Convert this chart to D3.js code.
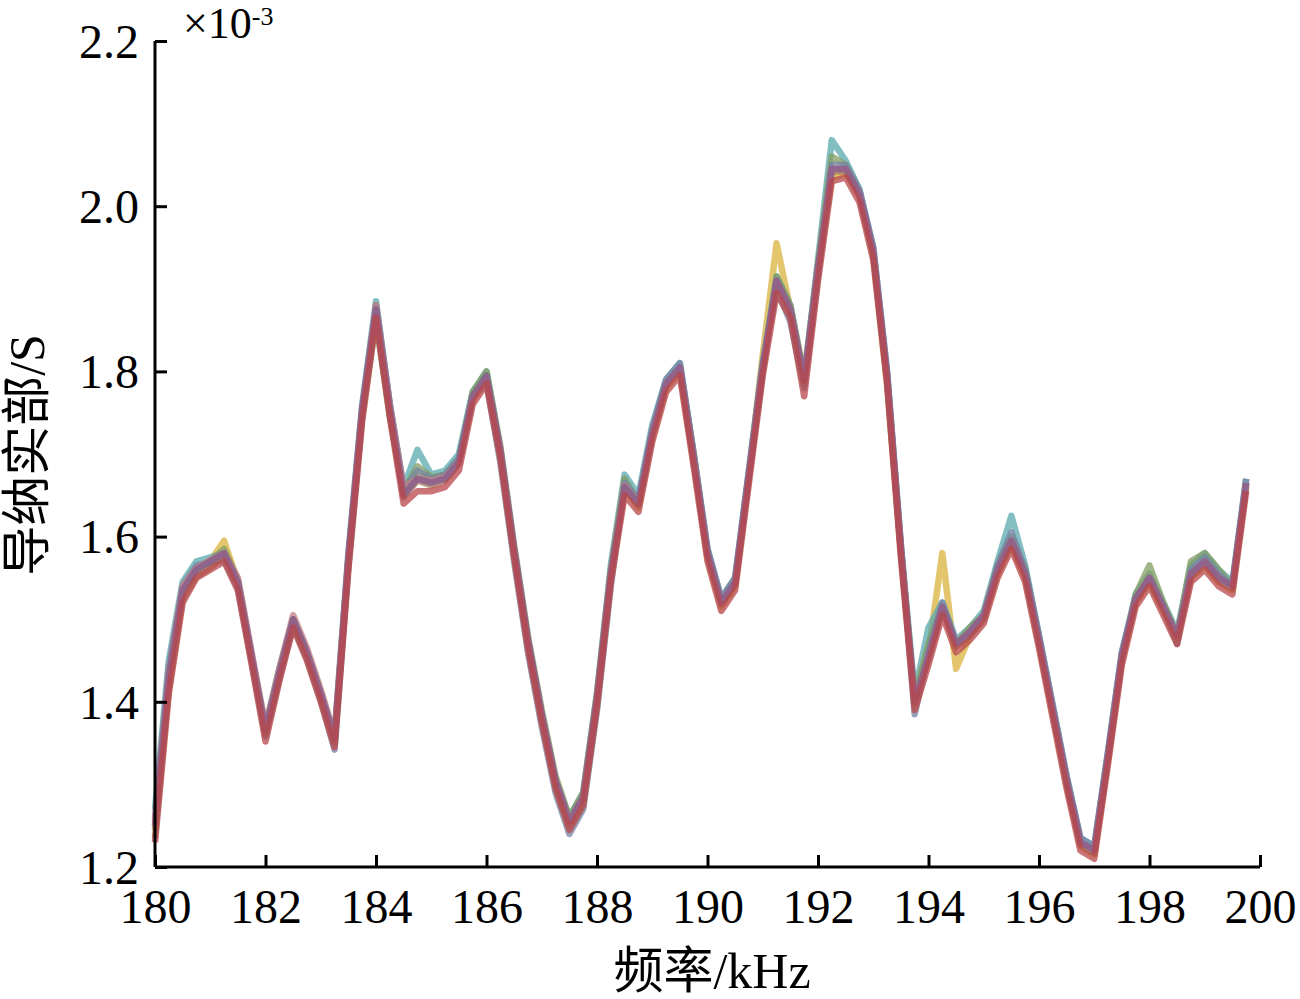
<!DOCTYPE html>
<html><head><meta charset="utf-8">
<script src="https://cdn.jsdelivr.net/npm/d3@7/dist/d3.min.js"></script>
<style>body{margin:0;background:#fff}svg{display:block}</style>
</head><body><svg id="c" width="1300" height="999"></svg>
<script>
// frequency grid (kHz)
const freq = [180,180.25,180.5,180.75,181,181.25,181.5,181.75,182,182.25,
182.5,182.75,183,183.25,183.5,183.75,184,184.25,184.5,184.75,
185,185.25,185.5,185.75,186,186.25,186.5,186.75,187,187.25,
187.5,187.75,188,188.25,188.5,188.75,189,189.25,189.5,189.75,
190,190.25,190.5,190.75,191,191.25,191.5,191.75,192,192.25,
192.5,192.75,193,193.25,193.5,193.75,194,194.25,194.5,194.75,
195,195.25,195.5,195.75,196,196.25,196.5,196.75,197,197.25,
197.5,197.75,198,198.25,198.5,198.75,199,199.25,199.5,199.75];
const xTicks = [180,182,184,186,188,190,192,194,196,198,200];
const yTicks = [1.2,1.4,1.6,1.8,2.0,2.2];
// conductance real part (x1e-3 S), one array per measured curve
const sYellow = [1.25,1.42,1.53,1.56,1.57,1.595,1.545,1.45,1.36,1.43,
1.495,1.455,1.405,1.35,1.57,1.75,1.875,1.755,1.65,1.675,
1.67,1.675,1.695,1.77,1.795,1.70,1.58,1.47,1.38,1.30,
1.25,1.275,1.395,1.55,1.66,1.635,1.72,1.78,1.80,1.69,
1.575,1.515,1.54,1.675,1.82,1.955,1.875,1.785,1.92,2.035,
2.04,2.015,1.94,1.785,1.58,1.40,1.46,1.58,1.44,1.48,
1.50,1.555,1.59,1.55,1.47,1.385,1.30,1.225,1.215,1.33,
1.45,1.52,1.545,1.51,1.475,1.55,1.565,1.545,1.535,1.66];
const sTeal = [1.27,1.45,1.545,1.57,1.575,1.58,1.545,1.455,1.37,1.44,
1.50,1.46,1.41,1.36,1.58,1.76,1.885,1.76,1.66,1.705,
1.675,1.68,1.70,1.775,1.80,1.705,1.585,1.475,1.385,1.305,
1.26,1.29,1.41,1.565,1.675,1.65,1.735,1.79,1.81,1.70,
1.585,1.525,1.55,1.68,1.81,1.915,1.88,1.79,1.935,2.08,
2.055,2.02,1.95,1.80,1.59,1.41,1.49,1.52,1.475,1.49,
1.51,1.57,1.625,1.565,1.48,1.395,1.31,1.235,1.225,1.34,
1.46,1.53,1.555,1.52,1.485,1.565,1.58,1.56,1.545,1.67];
const sGreen = [1.235,1.43,1.535,1.56,1.57,1.585,1.548,1.455,1.365,1.438,
1.50,1.46,1.41,1.355,1.565,1.745,1.862,1.745,1.655,1.685,
1.672,1.675,1.692,1.775,1.80,1.71,1.59,1.48,1.39,1.31,
1.26,1.29,1.41,1.56,1.67,1.64,1.725,1.785,1.805,1.70,
1.58,1.52,1.545,1.675,1.80,1.915,1.88,1.795,1.93,2.06,
2.05,2.015,1.945,1.79,1.585,1.405,1.47,1.515,1.47,1.49,
1.505,1.565,1.60,1.56,1.475,1.39,1.305,1.23,1.22,1.335,
1.455,1.53,1.565,1.52,1.48,1.57,1.58,1.56,1.54,1.665];
const sGray = [1.26,1.44,1.54,1.565,1.568,1.572,1.538,1.448,1.358,1.428,
1.492,1.452,1.402,1.342,1.565,1.748,1.88,1.76,1.655,1.68,
1.67,1.675,1.695,1.77,1.785,1.69,1.57,1.46,1.37,1.29,
1.24,1.27,1.39,1.54,1.665,1.645,1.73,1.79,1.81,1.70,
1.585,1.525,1.55,1.68,1.81,1.90,1.86,1.78,1.915,2.05,
2.05,2.02,1.95,1.80,1.59,1.385,1.46,1.52,1.47,1.48,
1.50,1.565,1.605,1.56,1.48,1.395,1.31,1.235,1.225,1.34,
1.46,1.525,1.55,1.515,1.47,1.56,1.575,1.555,1.54,1.67];
const sBrown = [1.245,1.415,1.525,1.552,1.562,1.578,1.542,1.452,1.362,1.432,
1.497,1.457,1.407,1.352,1.572,1.752,1.868,1.748,1.648,1.668,
1.662,1.668,1.688,1.765,1.792,1.702,1.582,1.472,1.382,1.302,
1.252,1.282,1.402,1.552,1.658,1.638,1.722,1.782,1.802,1.692,
1.578,1.518,1.542,1.672,1.802,1.908,1.872,1.788,1.922,2.042,
2.042,2.012,1.942,1.792,1.582,1.397,1.452,1.512,1.467,1.482,
1.502,1.557,1.592,1.552,1.472,1.387,1.302,1.227,1.217,1.332,
1.452,1.522,1.547,1.512,1.477,1.552,1.567,1.547,1.537,1.662];
const sPink = [1.255,1.435,1.54,1.562,1.572,1.58,1.55,1.46,1.37,1.44,
1.505,1.465,1.415,1.36,1.575,1.755,1.88,1.76,1.66,1.67,
1.668,1.672,1.69,1.768,1.792,1.705,1.585,1.475,1.385,1.305,
1.255,1.285,1.405,1.555,1.662,1.64,1.725,1.785,1.805,1.695,
1.58,1.52,1.545,1.675,1.805,1.91,1.875,1.79,1.925,2.045,
2.045,2.015,1.945,1.795,1.585,1.40,1.455,1.515,1.47,1.485,
1.505,1.56,1.595,1.555,1.475,1.39,1.305,1.23,1.22,1.335,
1.455,1.525,1.55,1.515,1.48,1.555,1.57,1.55,1.54,1.665];
const sPurple = [1.25,1.43,1.535,1.56,1.57,1.58,1.545,1.455,1.365,1.435,
1.50,1.46,1.41,1.355,1.575,1.755,1.875,1.755,1.65,1.67,
1.665,1.67,1.69,1.77,1.795,1.705,1.585,1.475,1.385,1.305,
1.255,1.285,1.405,1.555,1.66,1.64,1.725,1.785,1.805,1.695,
1.58,1.52,1.545,1.675,1.805,1.91,1.875,1.79,1.925,2.045,
2.045,2.015,1.945,1.795,1.585,1.40,1.455,1.515,1.47,1.485,
1.505,1.56,1.595,1.555,1.475,1.39,1.305,1.23,1.22,1.335,
1.455,1.525,1.55,1.515,1.48,1.555,1.57,1.55,1.54,1.665];
const sRed = [1.23,1.41,1.52,1.55,1.56,1.57,1.535,1.445,1.352,1.425,
1.49,1.45,1.40,1.345,1.56,1.74,1.865,1.745,1.64,1.655,
1.655,1.66,1.68,1.76,1.785,1.695,1.575,1.465,1.375,1.295,
1.245,1.275,1.395,1.545,1.65,1.63,1.715,1.775,1.795,1.685,
1.57,1.51,1.535,1.665,1.795,1.895,1.865,1.77,1.91,2.03,
2.035,2.005,1.935,1.785,1.575,1.39,1.445,1.505,1.46,1.475,
1.495,1.55,1.585,1.545,1.465,1.38,1.295,1.22,1.21,1.325,
1.445,1.515,1.54,1.505,1.47,1.545,1.56,1.54,1.53,1.655];

const seriesList = [
  {v:sYellow, c:'#d8b23c'},
  {v:sTeal,   c:'#5aa8ae'},
  {v:sGreen,  c:'#809c60'},
  {v:sGray,   c:'#7484a6'},
  {v:sBrown,  c:'#a67a5a'},
  {v:sPink,   c:'#c47f84'},
  {v:sPurple, c:'#83598f'},
  {v:sRed,    c:'#b8454a'}
];

const svg = d3.select('#c');
const L=155, R=1260, T=41, B=867;
const x = d3.scaleLinear().domain([180,200]).range([L,R]);
const y = d3.scaleLinear().domain([1.2,2.2]).range([B,T]);
const serif = "'Liberation Serif','Times New Roman','Noto Sans CJK SC',serif";

const line = d3.line().x((d,i)=>x(freq[i])).y(d=>y(d));
svg.append('g').selectAll('path').data(seriesList).join('path')
  .attr('d', d=>line(d.v))
  .attr('fill','none')
  .attr('stroke', d=>d.c)
  .attr('stroke-width', 6.5)
  .attr('stroke-linejoin','round')
  .attr('opacity',0.75);

// axes
const gx = svg.append('g').attr('transform',`translate(0,${B})`)
  .call(d3.axisBottom(x).tickValues(xTicks).tickSize(-12).tickPadding(22).tickFormat(d3.format('d')));
const gy = svg.append('g').attr('transform',`translate(${L},0)`)
  .call(d3.axisLeft(y).tickValues(yTicks).tickSize(-12).tickPadding(16).tickFormat(d3.format('.1f')));
[gx,gy].forEach(g=>{
  g.select('.domain').attr('stroke','#000').attr('stroke-width',3);
  g.selectAll('.tick line').attr('stroke','#000').attr('stroke-width',3);
  g.selectAll('.tick text').attr('fill','#000').style('font-family',serif).style('font-size','48px');
});
gx.select('.domain').attr('d',`M${L},0H${R}`);
gy.select('.domain').attr('d',`M0,${B}V${T}`);
gx.selectAll('.tick text').attr('dy','0.71em');
gy.selectAll('.tick text').attr('dy','0.34em');

// exponent
const ex = svg.append('text').attr('x',183).attr('y',38)
  .style('font-family',serif).style('font-size','44px').attr('fill','#000');
ex.append('tspan').text('×10');
ex.append('tspan').attr('dy',-13).style('font-size','26px').text('-3');

// axis titles
svg.append('text').attr('x',712).attr('y',988).attr('text-anchor','middle')
  .style('font-family',serif).style('font-size','50px').attr('fill','#000').text('频率/kHz');
svg.append('text').attr('transform','translate(44,455) rotate(-90)').attr('text-anchor','middle')
  .style('font-family',serif).style('font-size','50px').attr('fill','#000').text('导纳实部/S');
</script></body></html>
